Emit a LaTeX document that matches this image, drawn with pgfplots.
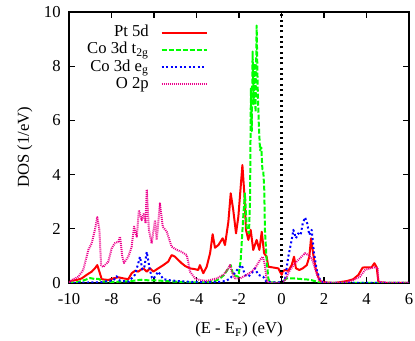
\documentclass[border=0pt]{standalone}
\usepackage{fontspec}
\setmainfont{Liberation Serif}
\usepackage{pgfplots}
\pgfplotsset{compat=1.18}

\begin{document}
\begin{tikzpicture}
  \begin{axis}[scale only axis, width=204pt, height=162.6pt,
               xmin=-10, xmax=6, ymin=0, ymax=10,
               xtick={-10,-8,...,6}, ytick={0,2,...,10},
               /pgf/number format/assume math mode=true,
               tick align=inside, major tick length=3.6pt,
               every tick/.style={black, line width=0.8pt},
               axis line style={line width=0.8pt},
               xticklabel style={yshift=-3pt},
               yticklabel style={xshift=-1.5pt},
               xlabel={(E - E\textsubscript{F}) (eV)},
               xlabel style={yshift=-3.5pt},
               ylabel={DOS (1/eV)},
               legend plot pos=right, legend cell align=right,
               legend image code/.code={\draw[#1] (0pt,0pt) -- (27pt,0pt);},
               legend style={draw=none, fill=none, at={(axis cs:-3.46,9.56)},
                 anchor=north east, inner sep=0pt, column sep=6.6pt,
                 nodes={inner sep=0.5pt, text height=7pt, text depth=2.3pt}},
               every axis plot/.append style={line width=1.2pt, line join=round},
              ]

    % Pt 5d
    \addplot[red] coordinates {
      (-10,0.02) (-9.87,0.08) (-9.6,0.12) (-9.4,0.17) (-9.17,0.3) (-8.93,0.42)
      (-8.78,0.54) (-8.67,0.66) (-8.57,0.42) (-8.46,0.14) (-8.15,0.11) (-7.92,0.17)
      (-7.68,0.21) (-7.44,0.17) (-7.21,0.14) (-7.05,0.36) (-6.89,0.45) (-6.74,0.42)
      (-6.6,0.5) (-6.5,0.54) (-6.34,0.42) (-6.19,0.54) (-6.03,0.42) (-5.8,0.54)
      (-5.56,0.66) (-5.33,0.79) (-5.17,1.03) (-5.01,0.97) (-4.86,0.85) (-4.7,0.73)
      (-4.54,0.63) (-4.31,0.54) (-4.07,0.51) (-3.92,0.48) (-3.84,0.66) (-3.68,0.36)
      (-3.52,0.6) (-3.36,1.1) (-3.24,1.8) (-3.13,1.3) (-2.97,1.4) (-2.77,1.65)
      (-2.66,1.4) (-2.5,2.26) (-2.39,3.31) (-2.27,2.69) (-2.14,1.83) (-2.03,2.45)
      (-1.92,3.55) (-1.84,4.35) (-1.75,3.31) (-1.67,1.96) (-1.56,1.59) (-1.45,1.96)
      (-1.33,1.22) (-1.17,1.59) (-1.04,1.22) (-0.93,1.89) (-0.82,1.1) (-0.7,0.97)
      (-0.62,0.6) (-0.46,0.58) (-0.15,0.54) (0.01,0.3) (0.05,0.42) (0.16,0.48)
      (0.32,0.45) (0.48,0.66) (0.59,0.97) (0.68,0.54) (0.84,0.48) (1.0,0.54)
      (1.19,0.66) (1.31,0.97) (1.39,1.65) (1.5,1.03) (1.62,0.48) (1.78,0.11)
      (1.89,0.03) (2.5,0.0) (3.07,0.07) (3.38,0.14) (3.62,0.3) (3.82,0.57)
      (4.08,0.58) (4.24,0.58) (4.37,0.73) (4.48,0.58) (4.56,0.03) (5,0) (6,0)
    };
    \addlegendentry{Pt 5d}

    % Co 3d t2g
    \addplot[green, dash pattern=on 3pt off 1.2pt] coordinates {
      (-10,0.0) (-9.6,0.03) (-9.3,0.1) (-9.0,0.18) (-8.8,0.15) (-8.6,0.15)
      (-8.4,0.05) (-8.0,0.04) (-7.5,0.05) (-7.0,0.08) (-6.6,0.12) (-6.3,0.1)
      (-6.0,0.1) (-5.6,0.08) (-5.0,0.05) (-4.5,0.03) (-4.0,0.02) (-3.5,0.03)
      (-3.1,0.08) (-2.89,0.17) (-2.7,0.3) (-2.5,0.54) (-2.39,0.66) (-2.27,0.3)
      (-2.03,0.23) (-1.92,0.85) (-1.8,2.45) (-1.72,3.31) (-1.64,2.08) (-1.53,1.83)
      (-1.48,3.06) (-1.44,7.18) (-1.4,5.6) (-1.36,8.54) (-1.31,6.6) (-1.27,8.1)
      (-1.22,6.3) (-1.17,9.5) (-1.12,7.2) (-1.07,5.9) (-1.01,4.9) (-0.95,5.0)
      (-0.9,4.2) (-0.86,4.17) (-0.81,3.43) (-0.78,1.96) (-0.7,0.85) (-0.62,0.17)
      (-0.55,0.02) (0.0,0.02) (0.24,0.17) (0.56,0.17) (0.87,0.15) (1.34,0.12)
      (1.66,0.05) (1.8,0.0) (6,0)
    };
    \addlegendentry{Co 3d t\textsubscript{2g}}

    % Co 3d eg
    \addplot[blue, dash pattern=on 1.2pt off 1.5pt] coordinates {
      (-10,0) (-9.0,0.02) (-8.5,0.03) (-7.9,0.1) (-7.76,0.25) (-7.6,0.08)
      (-7.2,0.05) (-6.9,0.3) (-6.75,0.7) (-6.66,0.97) (-6.55,0.5) (-6.45,0.6)
      (-6.34,1.15) (-6.2,0.5) (-6.1,0.2) (-6.03,0.15) (-5.8,0.42) (-5.56,0.14)
      (-5.25,0.1) (-5.0,0.08) (-4.5,0.05) (-4.0,0.03) (-3.0,0.03) (-2.6,0.08)
      (-2.42,0.17) (-2.27,0.3) (-2.03,0.54) (-1.87,0.66) (-1.72,0.3) (-1.56,0.23)
      (-1.4,0.36) (-1.25,0.54) (-1.09,0.3) (-0.86,0.23) (-0.7,0.03) (0.0,0.02)
      (0.16,0.11) (0.32,0.97) (0.48,1.59) (0.56,1.96) (0.68,1.65) (0.79,1.83)
      (0.9,1.77) (1.0,2.2) (1.11,2.42) (1.21,2.2) (1.31,1.77) (1.42,1.96)
      (1.53,1.1) (1.66,0.48) (1.82,0.1) (2.0,0.0) (6,0)
    };
    \addlegendentry{Co 3d e\textsubscript{g}}

    % O 2p
    \addplot[magenta, dash pattern=on 0.6pt off 0.6pt] coordinates {
      (-10,0.02) (-9.87,0.11) (-9.56,0.23) (-9.33,0.48) (-9.09,1.22) (-8.93,1.47)
      (-8.78,1.96) (-8.67,2.43) (-8.57,1.96) (-8.49,0.66) (-8.39,0.59) (-8.15,0.79)
      (-7.99,1.28) (-7.84,1.47) (-7.68,1.52) (-7.6,1.71) (-7.49,0.97) (-7.41,0.74)
      (-7.21,0.97) (-7.05,1.34) (-6.94,2.08) (-6.81,1.71) (-6.71,2.69) (-6.58,2.32)
      (-6.47,2.58) (-6.4,2.2) (-6.34,3.45) (-6.24,1.96) (-6.11,1.46) (-5.95,2.32)
      (-5.87,1.59) (-5.72,2.94) (-5.59,2.08) (-5.4,1.89) (-5.17,1.34) (-4.93,1.22)
      (-4.7,1.15) (-4.46,1.03) (-4.39,0.79) (-4.31,0.42) (-4.07,0.17) (-3.84,0.11)
      (-3.5,0.08) (-3.05,0.17) (-2.74,0.3) (-2.5,0.54) (-2.42,0.66) (-2.34,0.42)
      (-2.19,0.17) (-1.95,0.17) (-1.64,0.3) (-1.4,0.42) (-1.25,0.54) (-1.01,0.85)
      (-0.88,0.97) (-0.78,0.66) (-0.7,0.11) (-0.62,0.0) (0.0,0.0) (0.16,0.11)
      (0.4,0.48) (0.64,0.73) (0.87,0.91) (1.11,1.1) (1.26,1.03) (1.42,0.91)
      (1.58,0.54) (1.73,0.17) (1.89,0.05) (2.2,0.0) (3.0,0.02) (3.38,0.11)
      (3.69,0.23) (3.93,0.48) (4.16,0.54) (4.4,0.58) (4.53,0.54) (4.56,0.05)
      (5,0) (6,0)
    };
    \addlegendentry{O 2p}

    % Fermi level
    \addplot[black, line width=1.3pt, dash pattern=on 1.2pt off 2pt, forget plot]
      coordinates {(0,0) (0,10)};
  \end{axis}
  \pgfresetboundingbox
  \path ([shift={(-41.4pt,-34.8pt)}]current axis.south west)
    rectangle ([shift={(3.6pt,7.2pt)}]current axis.north east);
\end{tikzpicture}
\end{document}
